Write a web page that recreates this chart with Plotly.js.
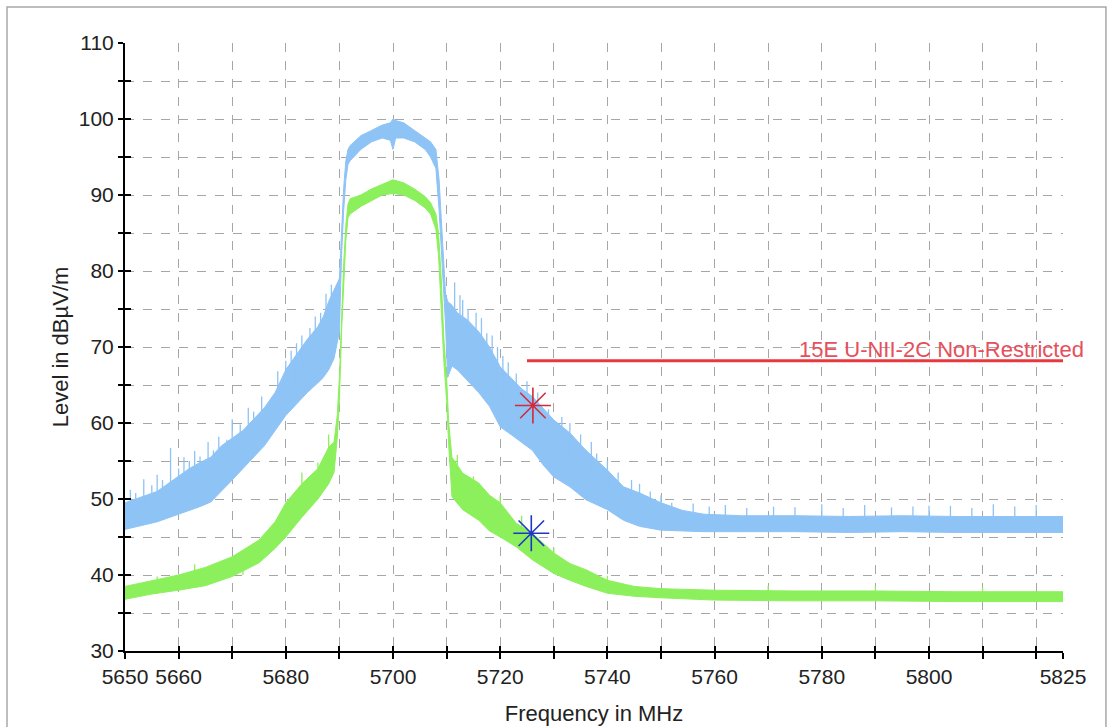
<!DOCTYPE html>
<html>
<head>
<meta charset="utf-8">
<script src="https://cdn.plot.ly/plotly-3.0.1.min.js"></script>
<style>
  html, body { margin: 0; padding: 0; background: #ffffff; }
  #chart { width: 1108px; height: 727px; }
</style>
</head>
<body>
<div id="chart"></div>
<script>
// ---------- data ----------
// Peak (blue) trace envelope
const peakFreq = [5650,5652,5654,5656,5658,5660,5662,5664,5666,5668,5670,5672,5674,5676,5678,5680,5682,5684,5686,5687,5688,5689,
  5690.0,5690.4,5690.8,5691.2,5691.6,5692,5694,5696,5698,5699.5,5700,5700.5,5702,5704,5706,5707,5708,
  5708.6,5709.0,5709.4,5709.8,5710.2,5711,5712,5714,5716,5718,5720,5722,5724,5726,5728,5730,5733,5736,5740,5743,5746,5750,
  5754,5758,5765,5775,5785,5795,5805,5815,5825];
const peakLow = [46.0,46.3,46.6,47.0,47.5,48.0,48.4,49.0,49.6,51.0,52.5,54.0,55.5,57.0,59.0,61.0,62.5,64.0,65.3,66.0,67.0,68.5,
  72.0,82.0,88.0,92.0,94.0,94.5,96.0,97.0,97.5,97.2,96.0,97.5,97.5,97.0,96.0,95.0,93.5,
  88.0,83.0,78.0,73.0,66.0,67.5,67.0,65.5,64.0,62.2,59.5,58.5,57.5,56.4,54.5,52.9,51.6,49.9,48.6,47.2,46.4,45.9,
  45.8,45.7,45.7,45.7,45.6,45.7,45.6,45.6,45.6];
const peakHigh = [49.5,50.0,50.5,51.0,52.0,53.0,54.0,54.8,55.5,57.0,58.0,59.0,60.5,62.0,64.0,67.0,69.0,71.0,72.7,74.0,76.0,77.5,
  79.0,85.0,91.0,94.5,96.0,96.5,97.8,98.5,99.2,99.5,100.0,99.8,99.5,98.5,97.5,97.0,96.0,
  92.0,87.0,82.0,77.0,76.0,75.5,74.5,73.5,72.0,70.0,67.4,66.0,64.5,63.5,62.0,60.4,58.7,56.4,53.8,51.6,50.8,49.5,
  48.5,48.0,47.8,47.8,47.7,47.8,47.7,47.7,47.7];

// Average (green) trace envelope
const avgFreq = [5650,5655,5660,5665,5670,5675,5678,5680,5683,5686,5688,5689,5689.6,5690.0,5690.4,5690.8,5691.2,5691.6,
  5692,5694,5696,5698,5700,5702,5704,5706,5707,5708,5708.5,5709.0,5709.5,5710.0,5710.4,
  5711,5713,5716,5718,5720,5723,5726,5730,5733,5736,5740,5745,5750,5760,5775,5790,5805,5825];
const avgLow = [36.8,37.5,38.0,38.6,39.8,41.6,43.5,45.0,47.6,50.0,52.0,53.5,58.0,63.0,72.0,79.0,84.0,87.0,
  87.5,88.5,89.3,90.0,90.2,90.0,89.3,88.3,87.5,85.5,82.0,74.0,68.0,63.0,57.0,
  50.3,48.6,47.2,45.8,45.0,43.7,42.0,40.2,39.3,38.5,37.6,37.2,37.0,36.7,36.6,36.6,36.5,36.5];
const avgHigh = [38.5,39.3,40.0,41.0,42.4,44.6,47.0,49.5,52.0,54.0,56.8,57.5,61.0,66.0,74.0,81.0,86.0,88.8,
  89.5,90.0,90.8,91.4,92.0,91.6,90.8,89.8,89.0,87.5,85.0,79.0,71.0,66.0,60.0,
  55.5,53.4,52.1,50.5,49.5,46.8,45.5,42.9,41.5,40.7,39.3,38.5,38.2,38.0,37.9,37.9,37.8,37.8];

// Isolated spikes (freq, bottom, top)
const peakSpikeFreq = [5651,5652,5653.5,5655,5656,5657,5658.5,5660,5661,5662,5663,5664,5665.5,5666.5,5667.5,5669,5670,5671.5,
  5673,5674,5675.5,5677,5678.5,5680,5681,5682,5683,5684.5,5685.5,5686.5,5687.5,5688.5,
  5711.5,5712.5,5713,5714,5715.5,5716.5,5717.5,5718.5,5719.5,5720.5,5721.5,5723,5725,5727,5729,5731.5,5733,5735,5737,
  5738,5740,5742,5744.5,5746,5748,5750,5752,5756,5759,5762,5766,5771,5775,5780,5784,5788,5793,5797,5800,5804,5808,5812,5816,5820];
const peakSpikeLow = [48,48,49,49,50,50,51,51,52,52,53,53,54,54,55,55,57,57,
  58,58,60,60,62,63,65,65,67,67,70,70,72,73,
  72,71,70,69,69,68,67,66,64,63,63,61,59,58,58,56,55,54,53,
  52,51,50,49,48,48,47,47,47,47,47,47,47,47,47,47,47,47,47,47,47,47,47,47,47];
const peakSpikeHigh = [51.2,50.8,52.6,51.8,53.2,52.5,56.7,54.0,55.5,55.0,56.3,55.6,57.5,56.4,58.2,57.8,60.5,59.8,
  62.0,61.5,63.5,63.0,66.8,68.2,69.5,70.5,71.5,72.5,74.0,74.5,77.0,78.2,
  78.5,76.8,76.2,75.0,74.5,73.8,71.8,71.5,70.0,68.8,68.0,66.5,65.5,64.0,61.8,60.8,60.0,58.5,57.5,
  56.0,55.0,53.5,52.5,52.0,51.0,50.5,49.5,49.4,49.0,49.2,48.8,49.0,48.9,49.3,48.8,49.2,48.9,49.0,49.1,49.1,48.8,49.3,49.0,49.2];
const avgSpikeFreq = [5656,5663,5672,5683,5686,5688,5712,5715,5720,5724,5730,5740,5770,5790,5810];
const avgSpikeLow = [38,39,40,50,51,55,52,50,47,45,41,38,37.5,37.5,37.5];
const avgSpikeHigh = [39.8,41.4,43.0,53.5,54.8,58.5,55.8,53.0,50.5,47.8,43.6,39.9,38.6,38.5,38.4];

// Limit line
const limitFreq = [5725, 5825];
const limitLevel = [68.2, 68.2];
const limitLabel = "15E U-NII-2C Non-Restricted";

// Markers
const markerPeakFreq = [5726.1];
const markerPeakLevel = [62.3];
const markerAvgFreq = [5725.8];
const markerAvgLevel = [45.5];

// Axis ticks
const xTickVals = [5650,5660,5670,5680,5690,5700,5710,5720,5730,5740,5750,5760,5770,5780,5790,5800,5810,5820,5825];
const xTickText = ["5650","5660","","5680","","5700","","5720","","5740","","5760","","5780","","5800","","","5825"];
const yTickVals = [30,35,40,45,50,55,60,65,70,75,80,85,90,95,100,105,110];
const yTickText = ["30","","40","","50","","60","","70","","80","","90","","100","","110"];

// ---------- build traces ----------
const BLUE = '#8ec3f6';
const GREEN = '#8cf05c';

function spikeXY(f, lo, hi) {
  const xs = [], ys = [];
  for (let i = 0; i < f.length; i++) { xs.push(f[i], f[i], null); ys.push(lo[i], hi[i], null); }
  return {xs, ys};
}
const ps = spikeXY(peakSpikeFreq, peakSpikeLow, peakSpikeHigh);
const as = spikeXY(avgSpikeFreq, avgSpikeLow, avgSpikeHigh);

const traces = [
  {x: peakFreq, y: peakLow, mode: 'lines', line: {color: BLUE, width: 1}, hoverinfo: 'skip', showlegend: false},
  {x: peakFreq, y: peakHigh, mode: 'lines', line: {color: BLUE, width: 1}, fill: 'tonexty', fillcolor: BLUE, hoverinfo: 'skip', showlegend: false},
  {x: ps.xs, y: ps.ys, mode: 'lines', line: {color: BLUE, width: 1.3}, hoverinfo: 'skip', showlegend: false},
  {x: avgFreq, y: avgLow, mode: 'lines', line: {color: GREEN, width: 1}, hoverinfo: 'skip', showlegend: false},
  {x: avgFreq, y: avgHigh, mode: 'lines', line: {color: GREEN, width: 1}, fill: 'tonexty', fillcolor: GREEN, hoverinfo: 'skip', showlegend: false},
  {x: as.xs, y: as.ys, mode: 'lines', line: {color: GREEN, width: 1.3}, hoverinfo: 'skip', showlegend: false},
  {x: limitFreq, y: limitLevel, mode: 'lines', line: {color: '#e8383f', width: 3}, hoverinfo: 'skip', showlegend: false},
  {x: markerPeakFreq, y: markerPeakLevel, mode: 'markers', marker: {symbol: 'asterisk-open', size: 30, color: '#d42a3a', line: {color: '#d42a3a', width: 1.6}}, showlegend: false},
  {x: markerAvgFreq, y: markerAvgLevel, mode: 'markers', marker: {symbol: 'asterisk-open', size: 30, color: '#1f36c8', line: {color: '#1f36c8', width: 1.6}}, showlegend: false},
  {x: [], y: [], xaxis: 'x2', yaxis: 'y2', mode: 'markers', showlegend: false}
];

const FONT = 'Arial, "Liberation Sans", sans-serif';
const xr = [5650, 5825], yr = [30, 110];

const layout = {
  width: 1108, height: 727,
  margin: {l: 125, r: 45, t: 43, b: 76},
  paper_bgcolor: '#ffffff', plot_bgcolor: '#ffffff',
  font: {family: FONT, color: '#222222'},
  showlegend: false,
  xaxis: {
    range: xr, tickmode: 'array', tickvals: xTickVals, ticktext: xTickText,
    showline: true, linecolor: '#000000', linewidth: 2,
    ticks: 'outside', ticklen: 6, tickwidth: 2, tickcolor: '#000000',
    showgrid: true, gridcolor: '#a6a6a6', griddash: 'dash', gridwidth: 1,
    zeroline: false, tickfont: {size: 21, family: FONT, color: '#222222'},
    title: {text: 'Frequency in MHz', font: {size: 22, family: FONT, color: '#222222'}, standoff: 18},
    fixedrange: true
  },
  yaxis: {
    range: yr, tickmode: 'array', tickvals: yTickVals, ticktext: yTickText,
    showline: true, linecolor: '#000000', linewidth: 2,
    ticks: 'outside', ticklen: 5, tickwidth: 2, tickcolor: '#000000',
    showgrid: true, gridcolor: '#a6a6a6', griddash: 'dash', gridwidth: 1,
    zeroline: false, tickfont: {size: 21, family: FONT, color: '#222222'},
    title: {text: 'Level in dBµV/m', font: {size: 22, family: FONT, color: '#222222'}, standoff: 4},
    fixedrange: true
  },
  xaxis2: {
    range: xr, overlaying: 'x', anchor: 'y2', side: 'bottom', tickmode: 'array', tickvals: xTickVals,
    showticklabels: false, ticks: 'inside', ticklen: 5, tickwidth: 2, tickcolor: '#000000',
    showgrid: false, showline: false, zeroline: false, fixedrange: true
  },
  yaxis2: {
    range: yr, overlaying: 'y', anchor: 'x2', side: 'left', tickmode: 'array', tickvals: yTickVals,
    showticklabels: false, ticks: 'inside', ticklen: 6, tickwidth: 2, tickcolor: '#000000',
    showgrid: false, showline: false, zeroline: false, fixedrange: true
  },
  annotations: [{
    x: limitFreq[1], y: limitLevel[1], xref: 'x', yref: 'y', text: limitLabel,
    xanchor: 'right', yanchor: 'bottom', xshift: 23, yshift: -3, showarrow: false,
    font: {size: 22, family: FONT, color: '#e5505c'}
  }],
  shapes: [{
    type: 'rect', xref: 'paper', yref: 'paper',
    x0: -0.1258, x1: 1.0458, y0: -0.2, y1: 1.0592,
    line: {color: '#a8a8a8', width: 1.5}, fillcolor: 'rgba(0,0,0,0)', layer: 'below'
  }]
};

Plotly.newPlot('chart', traces, layout, {displayModeBar: false, staticPlot: true});
</script>
</body>
</html>
